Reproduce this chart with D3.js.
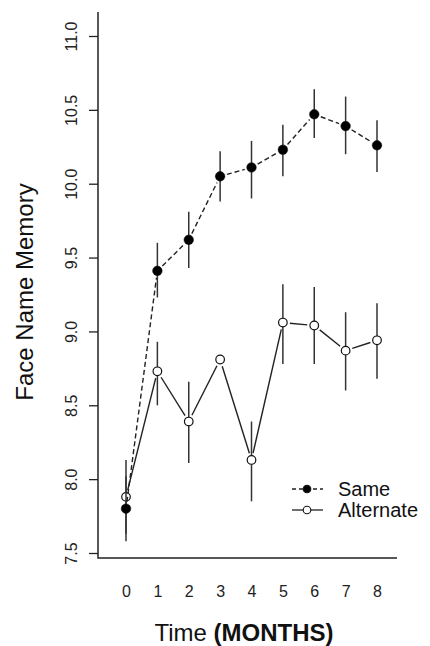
<!DOCTYPE html>
<html>
<head>
<meta charset="utf-8">
<script src="https://d3js.org/d3.v7.min.js"></script>
<style>
  body { margin: 0; background: #fff; }
  svg { display: block; font-family: "Liberation Sans", Arial, sans-serif; }
</style>
</head>
<body>
<script>
// months on x axis
const months = [0, 1, 2, 3, 4, 5, 6, 7, 8];
const yTicks = [7.5, 8.0, 8.5, 9.0, 9.5, 10.0, 10.5, 11.0];

// Same (filled, dashed)
const sameMean = [7.80, 9.41, 9.62, 10.05, 10.11, 10.23, 10.47, 10.39, 10.26];
const sameLo   = [7.58, 9.23, 9.43, 9.88, 9.90, 10.05, 10.31, 10.20, 10.08];
const sameHi   = [8.02, 9.60, 9.81, 10.22, 10.29, 10.40, 10.64, 10.59, 10.43];

// Alternate (open, solid)
const altMean = [7.88, 8.73, 8.39, 8.81, 8.13, 9.06, 9.04, 8.87, 8.94];
const altLo   = [7.63, 8.50, 8.11, 8.81, 7.85, 8.78, 8.78, 8.60, 8.68];
const altHi   = [8.13, 8.93, 8.66, 8.81, 8.39, 9.32, 9.30, 9.13, 9.19];

const W = 430, H = 646;
const svg = d3.select('body').append('svg').attr('width', W).attr('height', H);

const x = d3.scaleLinear().domain([0, 8]).range([126, 377]);
const y = d3.scaleLinear().domain([7.5, 11.0]).range([553, 36]);

// axes (bty = "l")
svg.append('path')
  .attr('d', `M98,12V558H397`)
  .attr('fill', 'none').attr('stroke', '#222').attr('stroke-width', 1.5);

const yAxis = d3.axisLeft(y).tickValues(yTicks).tickFormat(d3.format('.1f')).tickSize(9);
const gy = svg.append('g').attr('transform', 'translate(98,0)').call(yAxis);
gy.select('.domain').remove();
gy.selectAll('line').attr('stroke', '#222').attr('stroke-width', 1.3);
gy.selectAll('text')
  .attr('transform', 'translate(-21,0) rotate(-90)')
  .attr('x', 0).attr('y', 0).attr('dy', 0)
  .attr('text-anchor', 'middle')
  .style('font-size', '16px').attr('fill', '#222');

const xAxis = d3.axisBottom(x).tickValues(months).tickFormat(d3.format('d')).tickSize(0);
const gx = svg.append('g').attr('transform', 'translate(0,583)').call(xAxis);
gx.select('.domain').remove();
gx.selectAll('text').attr('dy', '0.71em').style('font-size', '16px').attr('fill', '#222');

// axis titles
svg.append('text')
  .attr('transform', 'translate(33,292) rotate(-90)')
  .attr('text-anchor', 'middle')
  .style('font-size', '24px').attr('fill', '#111')
  .text('Face Name Memory');

const xt = svg.append('text')
  .attr('x', 244).attr('y', 641)
  .attr('text-anchor', 'middle')
  .style('font-size', '24px').attr('fill', '#111');
xt.append('tspan').text('Time ');
xt.append('tspan').style('font-weight', 'bold').text('(MONTHS)');

// line with gaps around points (type = "b")
function gapSegments(vals, gap) {
  const segs = [];
  for (let i = 0; i < vals.length - 1; i++) {
    const x0 = x(months[i]), y0 = y(vals[i]), x1 = x(months[i + 1]), y1 = y(vals[i + 1]);
    const len = Math.hypot(x1 - x0, y1 - y0);
    if (len <= 2 * gap) continue;
    const ux = (x1 - x0) / len, uy = (y1 - y0) / len;
    segs.push([x0 + ux * gap, y0 + uy * gap, x1 - ux * gap, y1 - uy * gap]);
  }
  return segs;
}

function drawSeries(mean, lo, hi, filled, dash) {
  const g = svg.append('g');
  g.selectAll('line.err').data(months).join('line')
    .attr('class', 'err')
    .attr('x1', d => x(d)).attr('x2', d => x(d))
    .attr('y1', (d, i) => y(lo[i])).attr('y2', (d, i) => y(hi[i]))
    .attr('stroke', '#333').attr('stroke-width', 1.5);
  g.selectAll('line.seg').data(gapSegments(mean, 7)).join('line')
    .attr('class', 'seg')
    .attr('x1', d => d[0]).attr('y1', d => d[1]).attr('x2', d => d[2]).attr('y2', d => d[3])
    .attr('stroke', '#222').attr('stroke-width', 1.4)
    .attr('stroke-dasharray', dash);
  g.selectAll('circle').data(months).join('circle')
    .attr('cx', d => x(d)).attr('cy', (d, i) => y(mean[i]))
    .attr('r', filled ? 4.8 : 4.3)
    .attr('fill', filled ? '#000' : '#fff')
    .attr('stroke', '#111').attr('stroke-width', filled ? 0.5 : 1.2);
}

drawSeries(altMean, altLo, altHi, false, null);
drawSeries(sameMean, sameLo, sameHi, true, '5,3');

// legend
const legend = [
  { name: 'Same', filled: true, dash: '4,3', yy: 489 },
  { name: 'Alternate', filled: false, dash: null, yy: 510 }
];
const lg = svg.append('g');
legend.forEach(l => {
  lg.append('line')
    .attr('x1', 292).attr('x2', 323).attr('y1', l.yy).attr('y2', l.yy)
    .attr('stroke', '#222').attr('stroke-width', 1.3)
    .attr('stroke-dasharray', l.dash);
  lg.append('circle')
    .attr('cx', 307).attr('cy', l.yy).attr('r', 3.8)
    .attr('fill', l.filled ? '#000' : '#fff')
    .attr('stroke', '#111').attr('stroke-width', 1.1);
  lg.append('text')
    .attr('x', 338).attr('y', l.yy + 7)
    .style('font-size', '20px').attr('fill', '#111')
    .text(l.name);
});
</script>
</body>
</html>
